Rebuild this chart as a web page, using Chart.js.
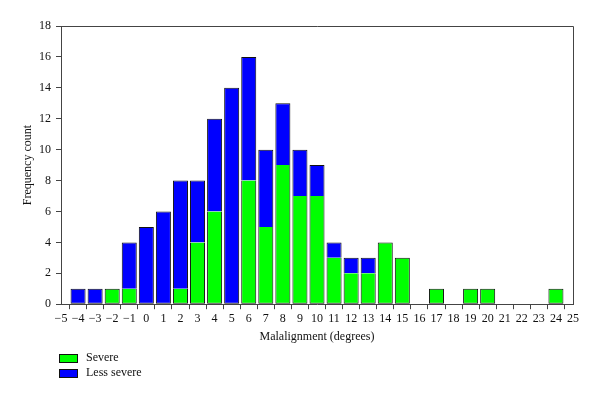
<!DOCTYPE html>
<html>
<head>
<meta charset="utf-8">
<script src="https://cdn.jsdelivr.net/npm/chart.js@4.4.1/dist/chart.umd.min.js"></script>
<style>
html,body{margin:0;padding:0;background:#fff;}
#wrap{width:600px;height:400px;}
</style>
</head>
<body>
<div id="wrap"><canvas id="c" width="600" height="400"></canvas></div>
<script>
const categories = [-4,-3,-2,-1,0,1,2,3,4,5,6,7,8,9,10,11,12,13,14,15,16,17,18,19,20,21,22,23,24];
const severe =     [0,0,1,1,0,0,1,4,6,0,8,5,9,7,7,3,2,2,4,3,0,1,0,1,1,0,0,0,1];
const lessSevere = [1,1,0,3,5,6,7,4,6,14,8,5,4,3,2,1,1,1,0,0,0,0,0,0,0,0,0,0,0];
const seriesNames = ['Severe','Less severe'];
const xMin = -5, xMax = 25;
const yMin = 0, yMax = 18, yStep = 2;

const GREEN = '#00ff00', BLUE = '#0000ff';
const FONT = "'Liberation Serif', 'DejaVu Serif', serif";

function toPoints(arr){ return categories.map((c,i)=>({x:c, y: arr[i] === 0 ? null : arr[i]})); }

const framePlugin = {
  id:'frame',
  afterDatasetsDraw(chart){
    const {ctx, chartArea:a} = chart;
    ctx.save();
    ctx.strokeStyle = '#444';
    ctx.lineWidth = 1;
    ctx.beginPath();
    ctx.moveTo(a.left, a.top+0.5);
    ctx.lineTo(a.right+0.5, a.top+0.5);
    ctx.lineTo(a.right+0.5, a.bottom);
    ctx.stroke();
    ctx.restore();
  }
};

const legendPlugin = {
  id:'myLegend',
  afterDraw(chart){
    const {ctx, chartArea:a} = chart;
    ctx.save();
    ctx.font = "12px " + FONT;
    ctx.textBaseline = 'middle';
    chart.data.datasets.forEach((ds,i)=>{
      const cy = chart.height - 42 + i*15;
      const x0 = a.left - 2;
      ctx.fillStyle = ds.backgroundColor;
      ctx.fillRect(x0, cy-4, 18, 8);
      ctx.strokeStyle = '#111';
      ctx.lineWidth = 1;
      ctx.strokeRect(x0+0.5, cy-3.5, 18, 8);
      ctx.fillStyle = '#111';
      ctx.fillText(ds.label, x0 + 27, cy);
    });
    ctx.restore();
  }
};

new Chart(document.getElementById('c'), {
  type:'bar',
  data:{
    datasets:[
      {label:seriesNames[0], data:toPoints(severe), backgroundColor:GREEN, borderColor:'#111', borderWidth:1,
       borderSkipped: ctx => (lessSevere[ctx.dataIndex] > 0 ? 'top' : false),
       barPercentage:0.88, categoryPercentage:1},
      {label:seriesNames[1], data:toPoints(lessSevere), backgroundColor:BLUE, borderColor:'#111', borderWidth:1,
       borderSkipped: ctx => (severe[ctx.dataIndex] > 0 ? 'bottom' : false),
       barPercentage:0.88, categoryPercentage:1}
    ]
  },
  options:{
    responsive:false,
    animation:false,
    layout:{padding:{left:21, right:27, top:26, bottom:56}},
    plugins:{legend:{display:false}, tooltip:{enabled:false}},
    scales:{
      x:{
        type:'linear', stacked:true, min:xMin, max:xMax, offset:false,
        ticks:{stepSize:1, autoSkip:false, maxRotation:0, color:'#111', padding:2,
               font:{family:FONT, size:12},
               callback:v => String(v).replace('-', '\u2212')},
        grid:{display:true, drawOnChartArea:false, drawTicks:true, tickLength:5, color:'#444'},
        border:{display:true, color:'#444', width:1},
        title:{display:true, text:'Malalignment (degrees)', color:'#111', font:{family:FONT, size:12}, padding:{top:2, bottom:0}}
      },
      y:{
        stacked:true, min:yMin, max:yMax,
        ticks:{stepSize:yStep, color:'#111', padding:5, font:{family:FONT, size:12}},
        grid:{display:true, drawOnChartArea:false, drawTicks:true, tickLength:5, color:'#444'},
        border:{display:true, color:'#444', width:1},
        title:{display:true, text:'Frequency count', color:'#111', font:{family:FONT, size:12}, padding:{top:0, bottom:6}},
        afterFit: s => { s.width = 40; }
      }
    }
  },
  plugins:[framePlugin, legendPlugin]
});
</script>
</body>
</html>
